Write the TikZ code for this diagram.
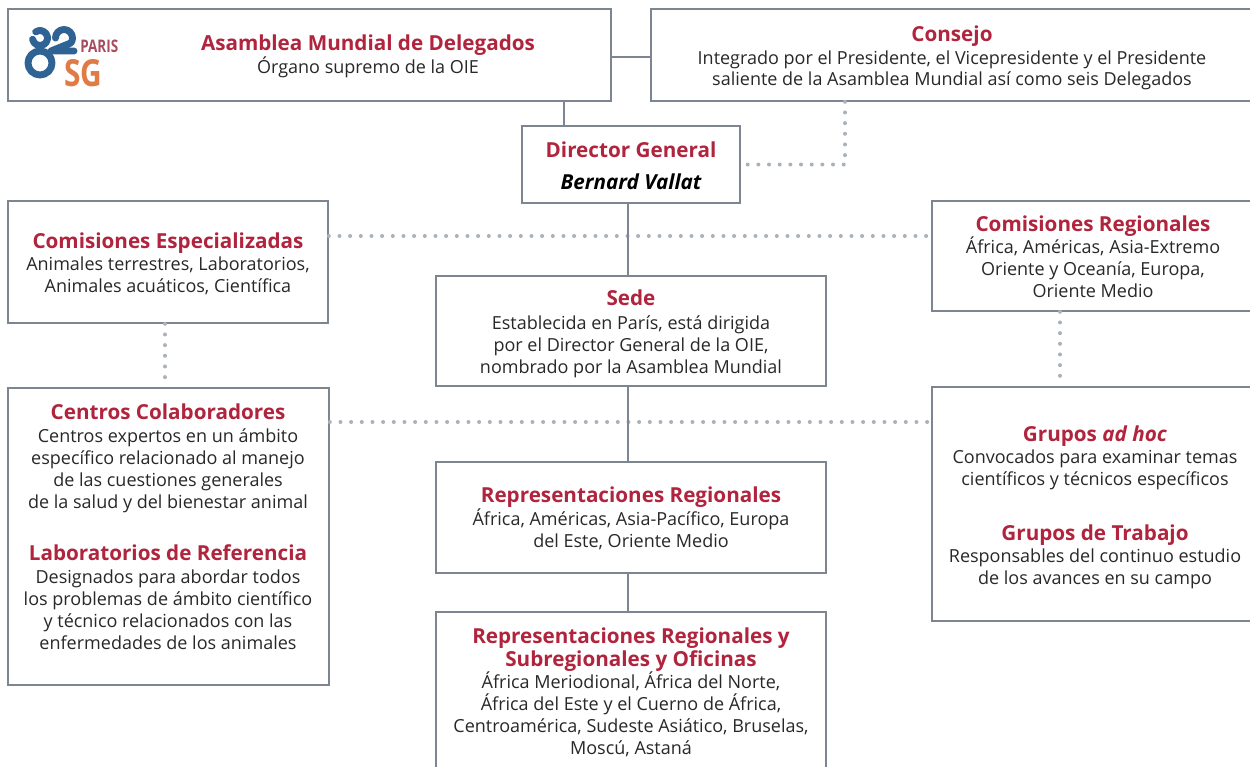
\documentclass[tikz,border=0pt]{standalone}
\usepackage{fontspec}
\setmainfont{Open Sans}
\usetikzlibrary{fit}
\definecolor{oiered}{RGB}{176,36,61}
\definecolor{boxgray}{RGB}{125,133,144}
\definecolor{dotgray}{RGB}{169,177,186}
\definecolor{txt}{RGB}{40,40,40}
\definecolor{logoblue}{RGB}{47,99,147}
\definecolor{logored}{RGB}{166,77,94}
\definecolor{logoorange}{RGB}{224,123,69}
\tikzset{
  box/.style={draw=boxgray, line width=1.2pt, fill=white, inner sep=0pt},
  ttl/.style={anchor=base, text=oiered, font=\fontsize{15.5}{17.25}\selectfont\bfseries, align=center, inner sep=0pt},
  bdy/.style={anchor=base, text=txt, font=\fontsize{13.5}{16.5}\selectfont, align=center, inner sep=0pt},
  link/.style={draw=boxgray, line width=1.5pt},
  dotlink/.style={draw=dotgray, line width=3pt, line cap=round, dash pattern=on 0pt off 8pt},
  logostroke/.style={draw=logoblue, line width=5.2pt, line cap=round, line join=round},
}
\begin{document}
\begin{tikzpicture}[x=0.75pt,y=-0.75pt]
\useasboundingbox (0,0) rectangle (1250,767);
% boxes
\node[box, fit={(8,9) (611,101)}] (asam) {};
\node[box, fit={(651,9) (1265,101)}] (consejo) {};
\node[box, fit={(522,126) (740,203)}] (dg) {};
\node[box, fit={(8,201) (328,323)}] (comesp) {};
\node[box, fit={(932,201) (1265,311)}] (comreg) {};
\node[box, fit={(436,276) (826,386)}] (sede) {};
\node[box, fit={(8,388) (329,685)}] (centros) {};
\node[box, fit={(932,387) (1265,621)}] (grupos) {};
\node[box, fit={(436,462) (826,573)}] (rr) {};
\node[box, fit={(436,612) (826,790)}] (rso) {};
% dotted connectors
\draw[dotlink] (consejo.south -| 845,0) |- (dg.east);
\draw[dotlink] (comesp.east |- 0,236) -- (comreg.west |- 0,236);
\draw[dotlink] (comesp.south -| 165,0) -- (centros.north -| 165,0);
\draw[dotlink] (centros.east |- 0,422) -- (grupos.west |- 0,422);
\draw[dotlink] (comreg.south -| 1060,0) -- (grupos.north -| 1060,0);
% solid connectors
\draw[link] (asam.east |- 0,57) -- (consejo.west |- 0,57);
\draw[link] (asam.south -| 564,0) -- (dg.north -| 564,0);
\draw[link] (dg.south -| 628,0) -- (sede.north -| 628,0);
\draw[link] (sede.south -| 628,0) -- (rr.north -| 628,0);
\draw[link] (rr.south -| 628,0) -- (rso.north -| 628,0);
% logo
\draw[logostroke] (40,63) circle[radius=12];
\draw[logostroke] (35.7,31.9) arc[start angle=235, end angle=530, radius=7.5];
\draw[logostroke] (55.5,38) arc[start angle=180, end angle=395, radius=8.5] -- (51,51) -- (74,51);
\node[anchor=base west, inner sep=0pt, text=logored, font=\fontsize{13}{13}\selectfont\bfseries] (logoparis) at (80,53) {\scalebox{0.78}[1]{PARIS}};
\node[anchor=base west, inner sep=0pt, text=logoorange, font=\fontsize{28}{28}\selectfont\bfseries] (logosg) at (64,87) {\scalebox{0.8}[1]{SG}};
% texts
\node[ttl] (asamT) at (368,51) {Asamblea Mundial de Delegados};
\node[bdy] (asamB) at (368,74) {Órgano supremo de la OIE};
\node[ttl] (consT) at (952,42) {Consejo};
\node[bdy] (consB) at (952,86) {Integrado por el Presidente, el Vicepresidente y el Presidente\\saliente de la Asamblea Mundial así como seis Delegados};
\node[ttl] (dgT) at (631,157) {Director General};
\node[ttl, text=black, font=\fontsize{15.5}{17.25}\selectfont\bfseries\itshape] (dgB) at (631,189) {Bernard Vallat};
\node[ttl] (ceT) at (168,248) {Comisiones Especializadas};
\node[bdy] (ceB) at (168,292) {Animales terrestres, Laboratorios,\\Animales acuáticos, Científica};
\node[ttl] (crT) at (1093,231) {Comisiones Regionales};
\node[bdy] (crB) at (1093,297) {África, Américas, Asia-Extremo\\Oriente y Oceanía, Europa,\\Oriente Medio};
\node[ttl] (sedeT) at (631,305) {Sede};
\node[bdy] (sedeB) at (631,373) {Establecida en París, está dirigida\\por el Director General de la OIE,\\nombrado por la Asamblea Mundial};
\node[ttl] (ccT) at (168,419) {Centros Colaboradores};
\node[bdy] (ccB) at (168,508) {Centros expertos en un ámbito\\específico relacionado al manejo\\de las cuestiones generales\\de la salud y del bienestar animal};
\node[ttl] (lrT) at (168,560) {Laboratorios de Referencia};
\node[bdy] (lrB) at (168,649) {Designados para abordar todos\\los problemas de ámbito científico\\y técnico relacionados con las\\enfermedades de los animales};
\node[ttl] (gahT) at (1095,441) {Grupos \textit{ad hoc}};
\node[bdy] (gahB) at (1095,485) {Convocados para examinar temas\\científicos y técnicos específicos};
\node[ttl] (gtT) at (1095,540) {Grupos de Trabajo};
\node[bdy] (gtB) at (1095,584) {Responsables del continuo estudio\\de los avances en su campo};
\node[ttl] (rrT) at (631,502) {Representaciones Regionales};
\node[bdy] (rrB) at (631,547) {África, Américas, Asia-Pacífico, Europa\\del Este, Oriente Medio};
\node[ttl] (rsoT) at (631,666) {Representaciones Regionales y\\Subregionales y Oficinas};
\node[bdy] (rsoB) at (631,754) {África Meriodional, África del Norte,\\África del Este y el Cuerno de África,\\Centroamérica, Sudeste Asiático, Bruselas,\\Moscú, Astaná};
\end{tikzpicture}
\end{document}
